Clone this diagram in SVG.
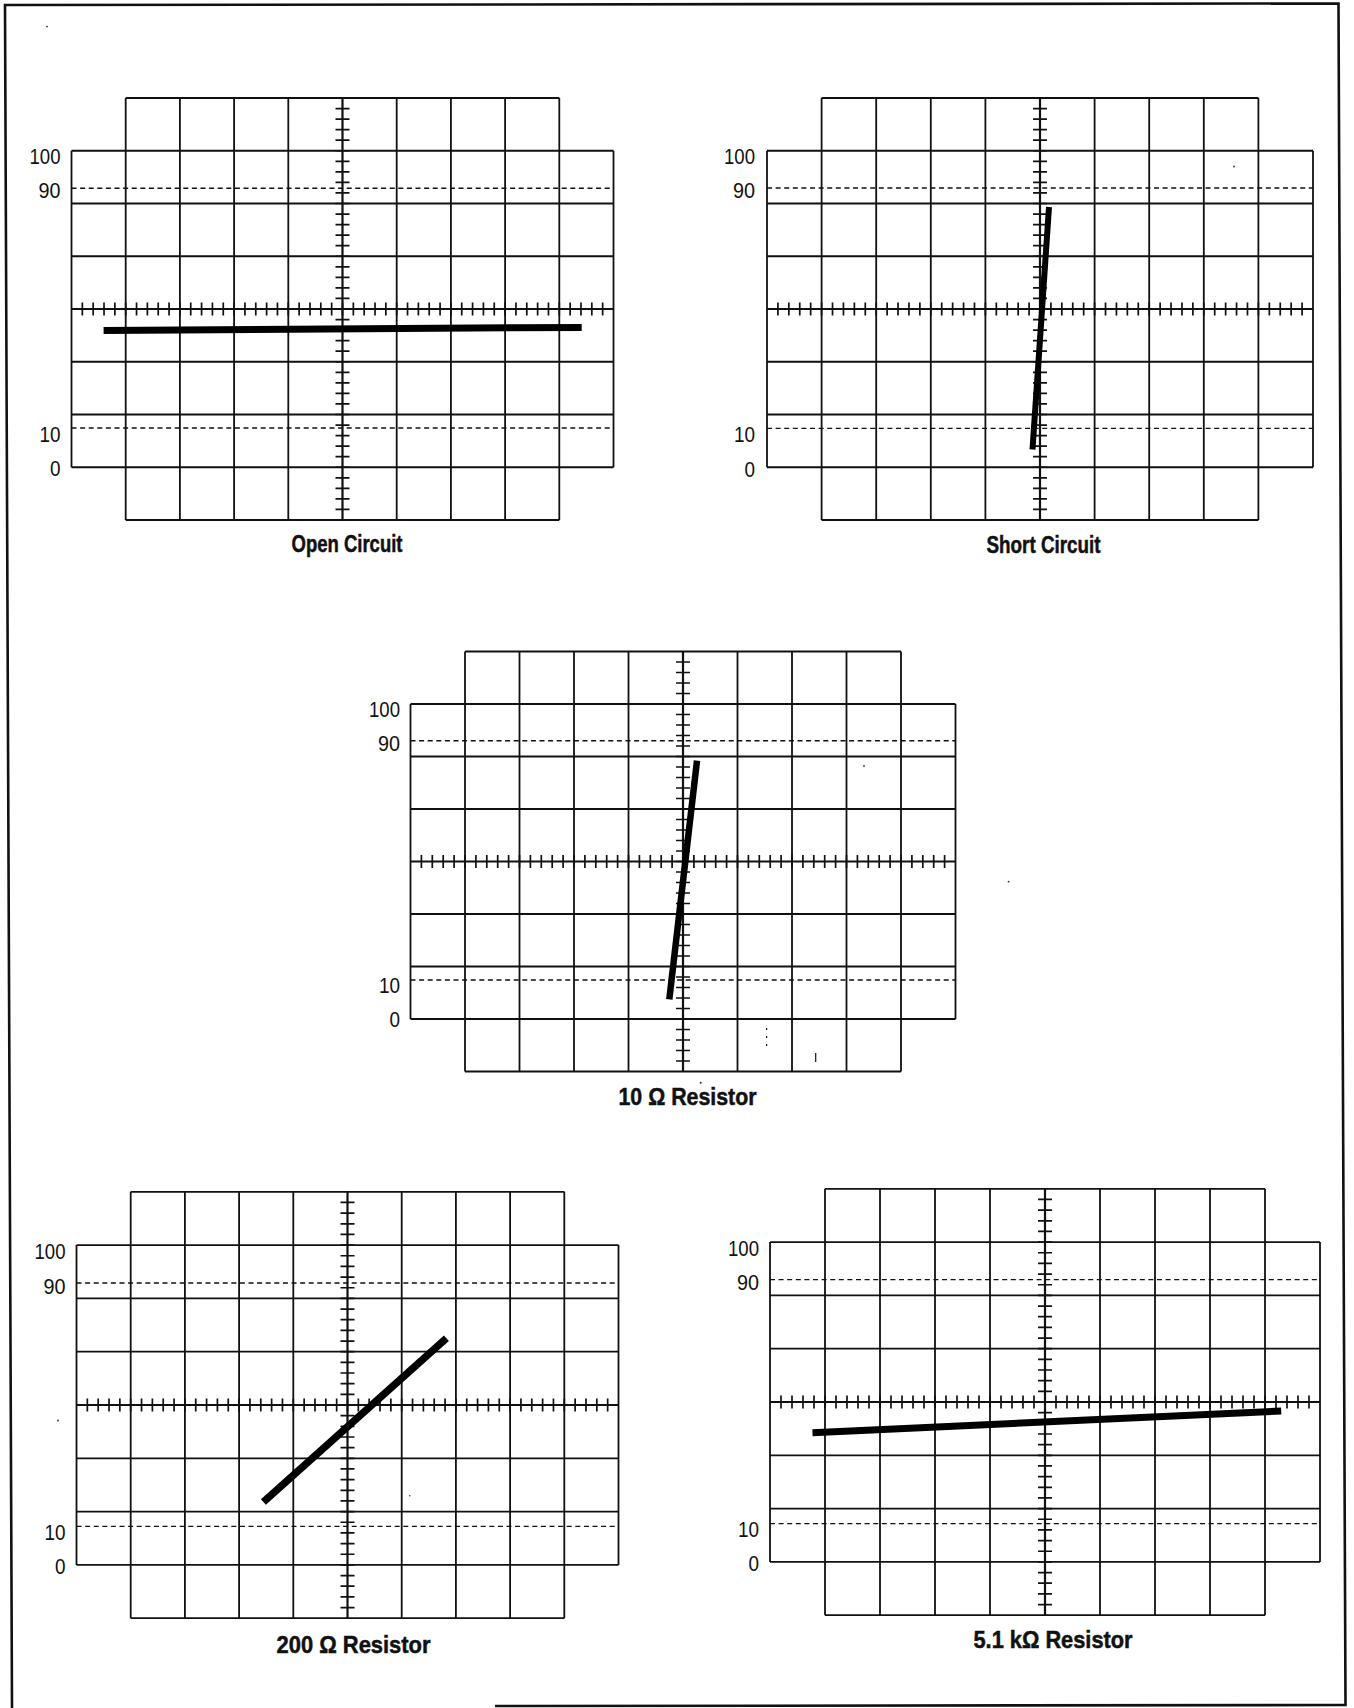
<svg xmlns="http://www.w3.org/2000/svg" width="1354" height="1708" viewBox="0 0 1354 1708">
<style>
.g{fill:none;stroke:#111;stroke-width:1.8}
.ax{fill:none;stroke:#111;stroke-width:2.2}
.d{fill:none;stroke:#111;stroke-width:1.4;stroke-dasharray:5 3.6}
.tk{fill:none;stroke:#111}
.tr{fill:none;stroke:#000;stroke-linecap:butt}
.lb{font-family:"Liberation Sans Narrow","Liberation Sans",Arial,sans-serif;font-size:22.5px;fill:#111;text-anchor:end}
.cap{font-family:"Liberation Sans Narrow","Liberation Sans",Arial,sans-serif;font-size:24px;font-weight:bold;fill:#111;stroke:#111;stroke-width:0.5;text-anchor:middle}
.sp{fill:#333}
</style>
<rect width="1354" height="1708" fill="#fff"/>
<path id="frame" d="M12 1708 L5 5 L1338.5 3.5 L1345.5 1705 L495 1706" fill="none" stroke="#111" stroke-width="2.6"/>

<g id="plot-open-circuit">
<path class="g" d="M125.7 98H559.3M125.7 520H559.3M71.5 150.75H613.5M71.5 203.5H613.5M71.5 256.25H613.5M71.5 361.75H613.5M71.5 414.5H613.5M71.5 467.25H613.5M125.7 98V520M179.9 98V520M234.1 98V520M288.3 98V520M396.7 98V520M450.9 98V520M505.1 98V520M559.3 98V520M71.5 150.75V467.25M613.5 150.75V467.25"/>
<path class="ax" d="M71.5 309H613.5M342.5 98V520"/>
<path class="d" d="M71.5 188.3H613.5M71.5 428H613.5"/>
<line class="tk" x1="81.49" y1="309" x2="603.51" y2="309" stroke-width="13" stroke-dasharray="1.7 9.14"/>
<line class="tk" x1="342.5" y1="107.7" x2="342.5" y2="510.3" stroke-width="14" stroke-dasharray="1.7 8.85"/>
<text class="lb" x="60.5" y="164" textLength="31" lengthAdjust="spacingAndGlyphs">100</text>
<text class="lb" x="60.5" y="198.3" textLength="22" lengthAdjust="spacingAndGlyphs">90</text>
<text class="lb" x="60.5" y="441.5" textLength="21" lengthAdjust="spacingAndGlyphs">10</text>
<text class="lb" x="60.5" y="476" textLength="10.5" lengthAdjust="spacingAndGlyphs">0</text>
<line class="tr" x1="103.6" y1="330.4" x2="581.7" y2="327.4" stroke-width="7"/>
<text class="cap" x="347" y="551.5" textLength="111" lengthAdjust="spacingAndGlyphs">Open Circuit</text>
</g>

<g id="plot-short-circuit">
<path class="g" d="M821.6 98H1258.4M821.6 520H1258.4M767 150.75H1313M767 203.5H1313M767 256.25H1313M767 361.75H1313M767 414.5H1313M767 467.25H1313M821.6 98V520M876.2 98V520M930.8 98V520M985.4 98V520M1094.6 98V520M1149.2 98V520M1203.8 98V520M1258.4 98V520M767 150.75V467.25M1313 150.75V467.25"/>
<path class="ax" d="M767 309H1313M1040 98V520"/>
<path class="d" d="M767 188H1313M767 428.4H1313"/>
<line class="tk" x1="777.07" y1="309" x2="1302.93" y2="309" stroke-width="13" stroke-dasharray="1.7 9.22"/>
<line class="tk" x1="1040" y1="107.7" x2="1040" y2="510.3" stroke-width="14" stroke-dasharray="1.7 8.85"/>
<text class="lb" x="755" y="164" textLength="31" lengthAdjust="spacingAndGlyphs">100</text>
<text class="lb" x="755" y="198" textLength="22" lengthAdjust="spacingAndGlyphs">90</text>
<text class="lb" x="755" y="441.9" textLength="21" lengthAdjust="spacingAndGlyphs">10</text>
<text class="lb" x="755" y="476.8" textLength="10.5" lengthAdjust="spacingAndGlyphs">0</text>
<line class="tr" x1="1049" y1="207" x2="1032.5" y2="449.5" stroke-width="6"/>
<text class="cap" x="1043.5" y="552.5" textLength="114" lengthAdjust="spacingAndGlyphs">Short Circuit</text>
<circle class="sp" cx="1234" cy="166.5" r="0.9"/>
</g>

<g id="plot-10-ohm">
<path class="g" d="M465 651.5H901M465 1071.5H901M410.5 704H955.5M410.5 756.5H955.5M410.5 809H955.5M410.5 914H955.5M410.5 966.5H955.5M410.5 1019H955.5M465 651.5V1071.5M519.5 651.5V1071.5M574 651.5V1071.5M628.5 651.5V1071.5M737.5 651.5V1071.5M792 651.5V1071.5M846.5 651.5V1071.5M901 651.5V1071.5M410.5 704V1019M955.5 704V1019"/>
<path class="ax" d="M410.5 861.5H955.5M683 651.5V1071.5"/>
<path class="d" d="M410.5 740.7H955.5M410.5 980H955.5"/>
<line class="tk" x1="420.55" y1="861.5" x2="945.45" y2="861.5" stroke-width="13" stroke-dasharray="1.7 9.2"/>
<line class="tk" x1="683" y1="661.15" x2="683" y2="1061.85" stroke-width="14" stroke-dasharray="1.7 8.8"/>
<text class="lb" x="400" y="716.5" textLength="31" lengthAdjust="spacingAndGlyphs">100</text>
<text class="lb" x="400" y="750.5" textLength="22" lengthAdjust="spacingAndGlyphs">90</text>
<text class="lb" x="400" y="993" textLength="21" lengthAdjust="spacingAndGlyphs">10</text>
<text class="lb" x="400" y="1026.5" textLength="10.5" lengthAdjust="spacingAndGlyphs">0</text>
<line class="tr" x1="697" y1="760.7" x2="669.3" y2="999.3" stroke-width="6.5"/>
<text class="cap" x="687.5" y="1105" textLength="138" lengthAdjust="spacingAndGlyphs">10 Ω Resistor</text>
<path class="tk" stroke-width="1.2" d="M766.6 1028v2M766.6 1036v2M766.6 1044v2M815.7 1053v9"/>
<circle class="sp" cx="700.7" cy="1082.7" r="1"/>
<circle class="sp" cx="864" cy="766" r="0.9"/>
</g>

<g id="plot-200-ohm">
<path class="g" d="M130.7 1191.8H564.3M130.7 1618.2H564.3M76.5 1245.1H618.5M76.5 1298.4H618.5M76.5 1351.7H618.5M76.5 1458.3H618.5M76.5 1511.6H618.5M76.5 1564.9H618.5M130.7 1191.8V1618.2M184.9 1191.8V1618.2M239.1 1191.8V1618.2M293.3 1191.8V1618.2M401.7 1191.8V1618.2M455.9 1191.8V1618.2M510.1 1191.8V1618.2M564.3 1191.8V1618.2M76.5 1245.1V1564.9M618.5 1245.1V1564.9"/>
<path class="ax" d="M76.5 1405H618.5M347.5 1191.8V1618.2"/>
<path class="d" d="M76.5 1283H618.5M76.5 1526.4H618.5"/>
<line class="tk" x1="86.49" y1="1405" x2="608.51" y2="1405" stroke-width="13" stroke-dasharray="1.7 9.14"/>
<line class="tk" x1="347.5" y1="1201.61" x2="347.5" y2="1608.39" stroke-width="14" stroke-dasharray="1.7 8.96"/>
<text class="lb" x="65.5" y="1259" textLength="31" lengthAdjust="spacingAndGlyphs">100</text>
<text class="lb" x="65.5" y="1294" textLength="22" lengthAdjust="spacingAndGlyphs">90</text>
<text class="lb" x="65.5" y="1540" textLength="21" lengthAdjust="spacingAndGlyphs">10</text>
<text class="lb" x="65.5" y="1574" textLength="10.5" lengthAdjust="spacingAndGlyphs">0</text>
<line class="tr" x1="263.4" y1="1502" x2="446.4" y2="1338.3" stroke-width="7.5"/>
<text class="cap" x="353.5" y="1652.5" textLength="154" lengthAdjust="spacingAndGlyphs">200 Ω Resistor</text>
</g>

<g id="plot-5k1-ohm">
<path class="g" d="M825 1188.8H1265M825 1615.2H1265M770 1242.1H1320M770 1295.4H1320M770 1348.7H1320M770 1455.3H1320M770 1508.6H1320M770 1561.9H1320M825 1188.8V1615.2M880 1188.8V1615.2M935 1188.8V1615.2M990 1188.8V1615.2M1100 1188.8V1615.2M1155 1188.8V1615.2M1210 1188.8V1615.2M1265 1188.8V1615.2M770 1242.1V1561.9M1320 1242.1V1561.9"/>
<path class="ax" d="M770 1402H1320M1045 1188.8V1615.2"/>
<path class="d" d="M770 1279.6H1320M770 1523.6H1320"/>
<line class="tk" x1="780.15" y1="1402" x2="1309.85" y2="1402" stroke-width="13" stroke-dasharray="1.7 9.3"/>
<line class="tk" x1="1045" y1="1198.61" x2="1045" y2="1605.39" stroke-width="14" stroke-dasharray="1.7 8.96"/>
<text class="lb" x="759" y="1256" textLength="31" lengthAdjust="spacingAndGlyphs">100</text>
<text class="lb" x="759" y="1290" textLength="22" lengthAdjust="spacingAndGlyphs">90</text>
<text class="lb" x="759" y="1537" textLength="21" lengthAdjust="spacingAndGlyphs">10</text>
<text class="lb" x="759" y="1571" textLength="10.5" lengthAdjust="spacingAndGlyphs">0</text>
<line class="tr" x1="812.5" y1="1432.7" x2="1281.2" y2="1411" stroke-width="7"/>
<text class="cap" x="1053" y="1647.5" font-size="25" textLength="159" lengthAdjust="spacingAndGlyphs">5.1 kΩ Resistor</text>
</g>

<g id="specks">
<circle class="sp" cx="47" cy="26.6" r="0.9"/>
<circle class="sp" cx="1008.6" cy="881.7" r="0.9"/>
<circle class="sp" cx="58" cy="1420.5" r="0.9"/>
<circle class="sp" cx="409.8" cy="1495.7" r="0.8"/>
</g>
</svg>
